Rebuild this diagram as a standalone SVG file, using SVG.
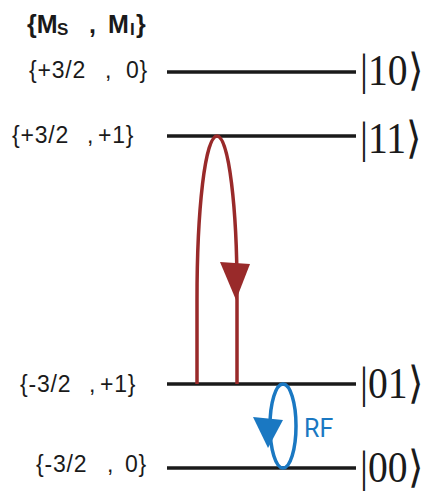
<svg xmlns="http://www.w3.org/2000/svg" width="431" height="493" viewBox="0 0 431 493">
<style>
.lvl{stroke:#1a1a1a;stroke-width:3.5;fill:none}
.lbl{font-family:"Liberation Sans",Arial,sans-serif;font-size:23px;letter-spacing:0.8px;fill:#1a1a1a}
.ket{font-family:"Liberation Serif","Times New Roman",serif;font-size:44px;fill:#1a1a1a}
.hdr{font-family:"Liberation Sans",Arial,sans-serif;font-weight:bold;font-size:25px;fill:#1a1a1a}
.sub{font-size:17px}
</style>
<rect width="431" height="493" fill="#fff"/>
<text class="hdr" y="33"><tspan x="27">{M</tspan><tspan class="sub" x="57" y="35">S</tspan><tspan x="89" y="33">,</tspan><tspan x="108">M</tspan><tspan class="sub" x="130" y="35">I</tspan><tspan x="136" y="33">}</tspan></text>
<g id="level10">
<line class="lvl" x1="167" y1="72" x2="356" y2="72"/>
<text class="lbl" y="78"><tspan x="29">{+3/2</tspan><tspan x="105">,</tspan><tspan x="126">0}</tspan></text>
<text class="ket" transform="translate(360,85) scale(0.9,1)">|10⟩</text>
</g>
<g id="level11">
<line class="lvl" x1="167" y1="136" x2="356" y2="136"/>
<text class="lbl" y="143"><tspan x="12">{+3/2</tspan><tspan x="87">,</tspan><tspan x="98">+1}</tspan></text>
<text class="ket" transform="translate(360,153) scale(0.9,1)">|11⟩</text>
</g>
<g id="level01">
<line class="lvl" x1="167" y1="384" x2="356" y2="384"/>
<text class="lbl" y="392"><tspan x="20">{-3/2</tspan><tspan x="89">,</tspan><tspan x="100">+1}</tspan></text>
<text class="ket" transform="translate(360,398) scale(0.9,1)">|01⟩</text>
</g>
<g id="level00">
<line class="lvl" x1="167" y1="468" x2="356" y2="468"/>
<text class="lbl" y="472"><tspan x="36">{-3/2</tspan><tspan x="107">,</tspan><tspan x="125">0}</tspan></text>
<text class="ket" transform="translate(360,482) scale(0.9,1)">|00⟩</text>
</g>
<g id="connectors">
<path d="M197,384 L197,300 C197,210 205,136 217,136 C229,136 237,210 237,290 L237,384" fill="none" stroke="#992a2a" stroke-width="3.5"/>
<polygon points="220,262 250,264 236,300" fill="#992a2a"/>
<ellipse cx="283" cy="426" rx="13" ry="42" fill="none" stroke="#1a78c2" stroke-width="3.5"/>
<polygon points="253,417 283,420 268,448" fill="#1a78c2"/>
<text x="304" y="437" font-family="Roboto,'Liberation Sans',sans-serif" font-size="25" fill="#1a78c2">RF</text>
</g>
</svg>
